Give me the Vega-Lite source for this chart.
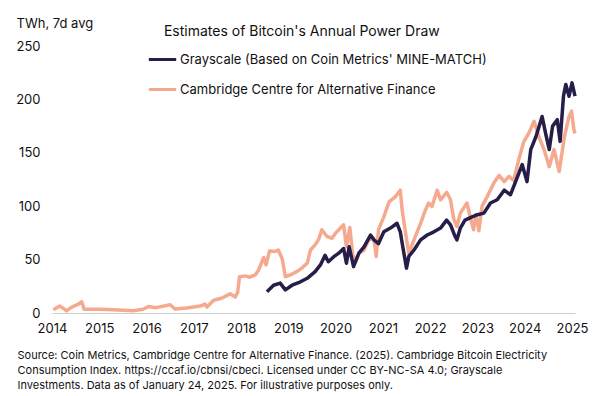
{
  "$schema": "https://vega.github.io/schema/vega-lite/v6.json",
  "width": 523,
  "height": 267,
  "autosize": {"type": "none"},
  "padding": {"left": 52, "top": 46, "right": 25, "bottom": 83},
  "background": "white",
  "config": {
    "font": "Inter",
    "view": {"stroke": null},
    "title": {"font": "Inter", "fontSize": 14, "fontWeight": "normal", "color": "#111"}
  },
  "title": {"text": "Estimates of Bitcoin's Annual Power Draw", "anchor": "middle", "frame": "bounds", "offset": -10, "dy": 12},
  "data": {"values": [
    {"date": "2014-01-12", "series": "Cambridge", "v": 3},
    {"date": "2014-03-01", "series": "Cambridge", "v": 6.5},
    {"date": "2014-03-28", "series": "Cambridge", "v": 4.5},
    {"date": "2014-04-23", "series": "Cambridge", "v": 2},
    {"date": "2014-06-03", "series": "Cambridge", "v": 5.5},
    {"date": "2014-07-20", "series": "Cambridge", "v": 8},
    {"date": "2014-08-19", "series": "Cambridge", "v": 10.5},
    {"date": "2014-09-06", "series": "Cambridge", "v": 3.5},
    {"date": "2015-01-05", "series": "Cambridge", "v": 3.5},
    {"date": "2015-04-20", "series": "Cambridge", "v": 3},
    {"date": "2015-09-20", "series": "Cambridge", "v": 2.2},
    {"date": "2015-12-05", "series": "Cambridge", "v": 3.5},
    {"date": "2016-01-15", "series": "Cambridge", "v": 6},
    {"date": "2016-03-14", "series": "Cambridge", "v": 5},
    {"date": "2016-07-02", "series": "Cambridge", "v": 7.8},
    {"date": "2016-08-08", "series": "Cambridge", "v": 3.7},
    {"date": "2016-11-06", "series": "Cambridge", "v": 4.7},
    {"date": "2017-02-20", "series": "Cambridge", "v": 6.5},
    {"date": "2017-03-28", "series": "Cambridge", "v": 8.4},
    {"date": "2017-04-12", "series": "Cambridge", "v": 5.6},
    {"date": "2017-06-03", "series": "Cambridge", "v": 12},
    {"date": "2017-08-08", "series": "Cambridge", "v": 14},
    {"date": "2017-10-08", "series": "Cambridge", "v": 18},
    {"date": "2017-11-17", "series": "Cambridge", "v": 15},
    {"date": "2017-12-05", "series": "Cambridge", "v": 19},
    {"date": "2017-12-20", "series": "Cambridge", "v": 34},
    {"date": "2018-02-03", "series": "Cambridge", "v": 34.7},
    {"date": "2018-03-10", "series": "Cambridge", "v": 33.5},
    {"date": "2018-04-20", "series": "Cambridge", "v": 35.6},
    {"date": "2018-05-15", "series": "Cambridge", "v": 40},
    {"date": "2018-06-25", "series": "Cambridge", "v": 52},
    {"date": "2018-07-13", "series": "Cambridge", "v": 45},
    {"date": "2018-08-08", "series": "Cambridge", "v": 58},
    {"date": "2018-09-20", "series": "Cambridge", "v": 57.5},
    {"date": "2018-10-15", "series": "Cambridge", "v": 59},
    {"date": "2018-11-14", "series": "Cambridge", "v": 51},
    {"date": "2018-12-09", "series": "Cambridge", "v": 34},
    {"date": "2019-01-15", "series": "Cambridge", "v": 35.6},
    {"date": "2019-03-07", "series": "Cambridge", "v": 38.7},
    {"date": "2019-04-15", "series": "Cambridge", "v": 42},
    {"date": "2019-05-27", "series": "Cambridge", "v": 46.6},
    {"date": "2019-06-21", "series": "Cambridge", "v": 59},
    {"date": "2019-07-27", "series": "Cambridge", "v": 63.8},
    {"date": "2019-08-22", "series": "Cambridge", "v": 68.5},
    {"date": "2019-09-17", "series": "Cambridge", "v": 78},
    {"date": "2019-10-27", "series": "Cambridge", "v": 71.6},
    {"date": "2019-12-05", "series": "Cambridge", "v": 70},
    {"date": "2020-01-01", "series": "Cambridge", "v": 74.8},
    {"date": "2020-01-26", "series": "Cambridge", "v": 78},
    {"date": "2020-03-03", "series": "Cambridge", "v": 82.6},
    {"date": "2020-03-25", "series": "Cambridge", "v": 62},
    {"date": "2020-04-20", "series": "Cambridge", "v": 80},
    {"date": "2020-05-12", "series": "Cambridge", "v": 55},
    {"date": "2020-06-03", "series": "Cambridge", "v": 48},
    {"date": "2020-06-29", "series": "Cambridge", "v": 56},
    {"date": "2020-08-08", "series": "Cambridge", "v": 59},
    {"date": "2020-09-13", "series": "Cambridge", "v": 68.5},
    {"date": "2020-10-23", "series": "Cambridge", "v": 70},
    {"date": "2020-11-10", "series": "Cambridge", "v": 53},
    {"date": "2020-11-28", "series": "Cambridge", "v": 78},
    {"date": "2021-01-08", "series": "Cambridge", "v": 90},
    {"date": "2021-02-17", "series": "Cambridge", "v": 104},
    {"date": "2021-04-08", "series": "Cambridge", "v": 109},
    {"date": "2021-05-15", "series": "Cambridge", "v": 115},
    {"date": "2021-05-30", "series": "Cambridge", "v": 96},
    {"date": "2021-06-25", "series": "Cambridge", "v": 75},
    {"date": "2021-07-20", "series": "Cambridge", "v": 56},
    {"date": "2021-08-29", "series": "Cambridge", "v": 68.5},
    {"date": "2021-10-19", "series": "Cambridge", "v": 84},
    {"date": "2021-11-24", "series": "Cambridge", "v": 96},
    {"date": "2021-12-20", "series": "Cambridge", "v": 103},
    {"date": "2022-01-15", "series": "Cambridge", "v": 99.7},
    {"date": "2022-02-24", "series": "Cambridge", "v": 115},
    {"date": "2022-03-22", "series": "Cambridge", "v": 106},
    {"date": "2022-05-08", "series": "Cambridge", "v": 113},
    {"date": "2022-06-07", "series": "Cambridge", "v": 106},
    {"date": "2022-07-02", "series": "Cambridge", "v": 88},
    {"date": "2022-07-27", "series": "Cambridge", "v": 81},
    {"date": "2022-08-22", "series": "Cambridge", "v": 93.5},
    {"date": "2022-10-12", "series": "Cambridge", "v": 103},
    {"date": "2022-11-06", "series": "Cambridge", "v": 90},
    {"date": "2022-12-02", "series": "Cambridge", "v": 78},
    {"date": "2022-12-20", "series": "Cambridge", "v": 92},
    {"date": "2023-01-12", "series": "Cambridge", "v": 77},
    {"date": "2023-02-06", "series": "Cambridge", "v": 100},
    {"date": "2023-03-18", "series": "Cambridge", "v": 109},
    {"date": "2023-05-08", "series": "Cambridge", "v": 121.7},
    {"date": "2023-06-18", "series": "Cambridge", "v": 129},
    {"date": "2023-07-27", "series": "Cambridge", "v": 123},
    {"date": "2023-09-02", "series": "Cambridge", "v": 128},
    {"date": "2023-10-08", "series": "Cambridge", "v": 124},
    {"date": "2023-11-17", "series": "Cambridge", "v": 144},
    {"date": "2023-12-24", "series": "Cambridge", "v": 160},
    {"date": "2024-02-03", "series": "Cambridge", "v": 168.6},
    {"date": "2024-03-14", "series": "Cambridge", "v": 179.5},
    {"date": "2024-04-20", "series": "Cambridge", "v": 165},
    {"date": "2024-05-30", "series": "Cambridge", "v": 153},
    {"date": "2024-07-09", "series": "Cambridge", "v": 137},
    {"date": "2024-08-15", "series": "Cambridge", "v": 153},
    {"date": "2024-09-24", "series": "Cambridge", "v": 132.5},
    {"date": "2024-11-03", "series": "Cambridge", "v": 165},
    {"date": "2024-12-09", "series": "Cambridge", "v": 184},
    {"date": "2024-12-28", "series": "Cambridge", "v": 189},
    {"date": "2025-01-15", "series": "Cambridge", "v": 172},
    {"date": "2025-01-24", "series": "Cambridge", "v": 168},
    {"date": "2018-07-20", "series": "Grayscale", "v": 20},
    {"date": "2018-09-09", "series": "Grayscale", "v": 26},
    {"date": "2018-10-30", "series": "Grayscale", "v": 28},
    {"date": "2018-12-09", "series": "Grayscale", "v": 21.6},
    {"date": "2019-01-30", "series": "Grayscale", "v": 26},
    {"date": "2019-04-01", "series": "Grayscale", "v": 29},
    {"date": "2019-05-27", "series": "Grayscale", "v": 32.5},
    {"date": "2019-07-27", "series": "Grayscale", "v": 38.7},
    {"date": "2019-09-06", "series": "Grayscale", "v": 45},
    {"date": "2019-10-12", "series": "Grayscale", "v": 54},
    {"date": "2019-11-06", "series": "Grayscale", "v": 48},
    {"date": "2019-12-16", "series": "Grayscale", "v": 52.5},
    {"date": "2020-01-26", "series": "Grayscale", "v": 56},
    {"date": "2020-03-03", "series": "Grayscale", "v": 60.4},
    {"date": "2020-03-25", "series": "Grayscale", "v": 46.6},
    {"date": "2020-04-15", "series": "Grayscale", "v": 62},
    {"date": "2020-05-19", "series": "Grayscale", "v": 43.4},
    {"date": "2020-06-29", "series": "Grayscale", "v": 56},
    {"date": "2020-08-08", "series": "Grayscale", "v": 62},
    {"date": "2020-09-27", "series": "Grayscale", "v": 73},
    {"date": "2020-10-23", "series": "Grayscale", "v": 68.5},
    {"date": "2020-11-28", "series": "Grayscale", "v": 65},
    {"date": "2021-01-08", "series": "Grayscale", "v": 76},
    {"date": "2021-02-28", "series": "Grayscale", "v": 79.5},
    {"date": "2021-04-20", "series": "Grayscale", "v": 84},
    {"date": "2021-05-15", "series": "Grayscale", "v": 76},
    {"date": "2021-05-30", "series": "Grayscale", "v": 65},
    {"date": "2021-07-02", "series": "Grayscale", "v": 42},
    {"date": "2021-07-20", "series": "Grayscale", "v": 53},
    {"date": "2021-08-29", "series": "Grayscale", "v": 59},
    {"date": "2021-10-19", "series": "Grayscale", "v": 68.5},
    {"date": "2021-12-09", "series": "Grayscale", "v": 73},
    {"date": "2022-01-30", "series": "Grayscale", "v": 76},
    {"date": "2022-03-22", "series": "Grayscale", "v": 79.5},
    {"date": "2022-05-08", "series": "Grayscale", "v": 87},
    {"date": "2022-06-07", "series": "Grayscale", "v": 82.6},
    {"date": "2022-07-13", "series": "Grayscale", "v": 71.6},
    {"date": "2022-07-27", "series": "Grayscale", "v": 68.5},
    {"date": "2022-08-22", "series": "Grayscale", "v": 79.5},
    {"date": "2022-09-27", "series": "Grayscale", "v": 87},
    {"date": "2022-11-21", "series": "Grayscale", "v": 90},
    {"date": "2023-01-01", "series": "Grayscale", "v": 92},
    {"date": "2023-02-20", "series": "Grayscale", "v": 93.5},
    {"date": "2023-04-12", "series": "Grayscale", "v": 103},
    {"date": "2023-06-03", "series": "Grayscale", "v": 106},
    {"date": "2023-07-27", "series": "Grayscale", "v": 115},
    {"date": "2023-09-13", "series": "Grayscale", "v": 110.7},
    {"date": "2023-10-23", "series": "Grayscale", "v": 123},
    {"date": "2023-12-13", "series": "Grayscale", "v": 139},
    {"date": "2024-01-19", "series": "Grayscale", "v": 123},
    {"date": "2024-02-17", "series": "Grayscale", "v": 153},
    {"date": "2024-03-28", "series": "Grayscale", "v": 165},
    {"date": "2024-05-15", "series": "Grayscale", "v": 184},
    {"date": "2024-06-10", "series": "Grayscale", "v": 168.6},
    {"date": "2024-07-09", "series": "Grayscale", "v": 153},
    {"date": "2024-08-04", "series": "Grayscale", "v": 175},
    {"date": "2024-09-09", "series": "Grayscale", "v": 181},
    {"date": "2024-10-01", "series": "Grayscale", "v": 160.7},
    {"date": "2024-10-27", "series": "Grayscale", "v": 203},
    {"date": "2024-11-14", "series": "Grayscale", "v": 214},
    {"date": "2024-12-09", "series": "Grayscale", "v": 203},
    {"date": "2025-01-01", "series": "Grayscale", "v": 215.5},
    {"date": "2025-01-24", "series": "Grayscale", "v": 203}
  ]},
  "encoding": {
    "x": {
      "field": "date", "type": "temporal",
      "scale": {"domain": ["2014-01-01", "2025-01-24"]},
      "axis": {
        "format": "%Y", "tickCount": {"interval": "year", "step": 1},
        "grid": false, "ticks": false, "domainColor": "#cfcfcf", "domainWidth": 1,
        "labelFont": "Inter", "labelFontSize": 13, "labelColor": "#111", "labelPadding": 9,
        "labelFlush": false, "labelOverlap": false,
        "title": ["Source: Coin Metrics, Cambridge Centre for Alternative Finance. (2025). Cambridge Bitcoin Electricity", "Consumption Index. https://ccaf.io/cbnsi/cbeci. Licensed under CC BY-NC-SA 4.0; Grayscale", "Investments. Data as of January 24, 2025. For illustrative purposes only."],
        "titleFont": "Inter", "titleFontSize": 11, "titleFontWeight": "normal", "titleColor": "#111",
        "titleAlign": "left", "titleAnchor": "start", "titleX": -35, "titleY": 36, "titleBaseline": "top", "titleLineHeight": 15
      }
    },
    "y": {
      "field": "v", "type": "quantitative",
      "scale": {"domain": [0, 250], "nice": false},
      "axis": {
        "values": [0, 50, 100, 150, 200, 250],
        "grid": false, "ticks": false, "domain": false,
        "labelFont": "Inter", "labelFontSize": 13, "labelColor": "#111", "labelPadding": 12,
        "title": "TWh, 7d avg", "titleAngle": 0, "titleAlign": "left", "titleBaseline": "middle",
        "titleX": -36, "titleY": -23, "titleFont": "Inter", "titleFontSize": 13, "titleFontWeight": "normal", "titleColor": "#111"
      }
    },
    "color": {
      "field": "series", "type": "nominal",
      "scale": {"domain": ["Grayscale", "Cambridge"], "range": ["#261d48", "#f5aa8f"]},
      "legend": {
        "orient": "none", "legendX": 95, "legendY": -2, "title": null,
        "labelExpr": "datum.label === 'Grayscale' ? \"Grayscale (Based on Coin Metrics' MINE-MATCH)\" : 'Cambridge Centre for Alternative Finance'",
        "symbolType": "stroke", "symbolStrokeWidth": 3, "symbolSize": 750,
        "labelFont": "Inter", "labelFontSize": 13, "labelColor": "#111", "labelOffset": 2,
        "rowPadding": 7, "labelLimit": 400
      }
    }
  },
  "layer": [
    {
      "transform": [{"filter": "datum.series === 'Cambridge'"}],
      "mark": {"type": "line", "strokeWidth": 3.5, "strokeJoin": "round"}
    },
    {
      "transform": [{"filter": "datum.series === 'Grayscale'"}],
      "mark": {"type": "line", "strokeWidth": 3.5, "strokeJoin": "round"}
    }
  ]
}
